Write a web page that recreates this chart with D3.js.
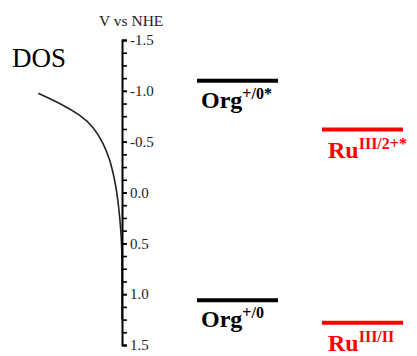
<!DOCTYPE html>
<html><head><meta charset="utf-8">
<script src="https://cdn.jsdelivr.net/npm/d3@7"></script>
<style>html,body{margin:0;padding:0;background:#fff;}svg{display:block;}</style>
</head><body>
<script>
// Data
const axisDomain = [-1.5, 1.5];
const majorTicks = [-1.5, -1.0, -0.5, 0.0, 0.5, 1.0, 1.5];
const minorTicks = d3.range(-1.5, 1.5001, 0.125);
const dosPotential = [-0.976, -0.861, -0.763, -0.648, -0.484, -0.320, -0.222, -0.123, -0.025, 0.172, 0.368, 0.516, 0.7, 1.0, 1.25];
const dosValue     = [83.7, 58.7, 42, 28.7, 18.4, 12.2, 9.6, 7.4, 5.5, 2.9, 1.2, 0.3, 0, 0, 0];
const levelNames   = ["Org", "Ru", "Org", "Ru"];
const levelSups    = ["+/0*", "III/2+*", "+/0", "III/II"];
const levelValues  = [-1.10, -0.62, 1.06, 1.28];
const levelColumn  = [0, 1, 0, 1];
const levelColors  = ["#000000", "#ff0000", "#000000", "#ff0000"];

const W = 417, H = 356;
const FONT = "'Liberation Serif'";
const svg = d3.select("body").append("svg").attr("width", W).attr("height", H);

const y = d3.scaleLinear().domain(axisDomain).range([40, 345]);
const xDos = d3.scaleLinear().domain([0, 100]).range([122, 22]);
const colX = d3.scalePoint().domain([0, 1]).range([197, 322]);
const levelWidth = 81;

// DOS curve
const dosData = dosPotential.map((v, i) => ({v, d: dosValue[i]}));
svg.append("path").datum(dosData)
  .attr("fill", "none").attr("stroke", "#222").attr("stroke-width", 1.6)
  .attr("d", d3.line().x(p => xDos(p.d)).y(p => y(p.v)).curve(d3.curveBasis));

// Axis (minor ticks)
const minorAxis = d3.axisRight(y).tickValues(minorTicks).tickSize(5).tickSizeOuter(5).tickFormat("");
const gMin = svg.append("g").attr("transform", "translate(122,0)").call(minorAxis);
gMin.select(".domain").attr("stroke", "#000").attr("stroke-width", 2);
gMin.selectAll(".tick line").attr("stroke", "#000").attr("stroke-width", 1.6);

// Major labels
const majorAxis = d3.axisRight(y).tickValues(majorTicks).tickSize(5).tickPadding(3)
  .tickFormat(d => d.toFixed(1));
const gMaj = svg.append("g").attr("transform", "translate(122,0)").call(majorAxis);
gMaj.select(".domain").remove();
gMaj.selectAll(".tick line").attr("stroke", "#000").attr("stroke-width", 1.6);
gMaj.selectAll(".tick text").style("font-family", FONT)
  .style("font-size", "15px").attr("fill", "#222");

// Titles
svg.append("text").attr("x", 99).attr("y", 26).text("V vs NHE")
  .style("font-family", FONT).style("font-size", "15.5px").attr("fill", "#222");
svg.append("text").attr("x", 12).attr("y", 67).text("DOS")
  .style("font-family", FONT).style("font-size", "27px").attr("fill", "#000");

// Levels
const levels = levelValues.map((v, i) => ({v, name: levelNames[i], sup: levelSups[i], col: levelColumn[i], color: levelColors[i]}));
const lg = svg.selectAll("g.level").data(levels).join("g").attr("class", "level");
lg.append("line")
  .attr("x1", d => colX(d.col)).attr("x2", d => colX(d.col) + levelWidth)
  .attr("y1", d => y(d.v)).attr("y2", d => y(d.v))
  .attr("stroke", d => d.color).attr("stroke-width", 4);
const t = lg.append("text")
  .attr("x", d => colX(d.col) + (d.col ? 6 : 4))
  .attr("y", d => y(d.v) + (d.col ? 28.5 : 27))
  .style("font-family", FONT).style("font-weight", "bold")
  .attr("fill", d => d.color);
t.append("tspan").style("font-size", "24px").text(d => d.name);
t.append("tspan").style("font-size", "16px").attr("dy", -9).text(d => d.sup);
</script>
</body></html>
